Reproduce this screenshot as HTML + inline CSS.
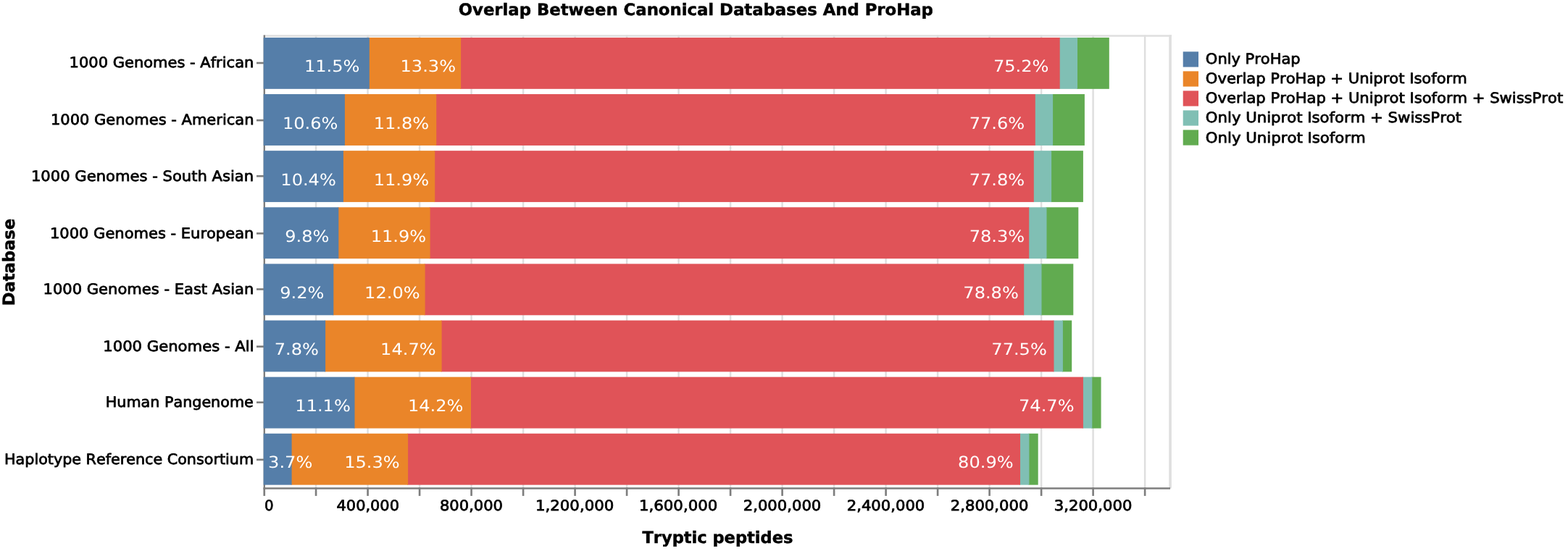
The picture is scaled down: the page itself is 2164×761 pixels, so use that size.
<!DOCTYPE html>
<html lang="en"><head><meta charset="utf-8"><title>Overlap Between Canonical Databases And ProHap</title>
<style>html,body{margin:0;padding:0;background:#fff;overflow:hidden}svg{display:block;font-family:'DejaVu Sans','Liberation Sans',sans-serif;font-kerning:none;text-rendering:geometricPrecision}</style></head><body>
<svg width="2164" height="761" viewBox="0 0 2164 761">
<rect width="2164" height="761" fill="#fff"/>
<g stroke="#dfdfdf" fill="none">
<line x1="363.70" y1="49.39" x2="1617.00" y2="49.39" stroke-width="2.5"/>
<line x1="1615.05" y1="48.15" x2="1615.05" y2="674.49" stroke-width="3.6"/>
</g>
<g stroke="#dfdfdf" stroke-width="2.50">
<line x1="364.75" y1="48.45" x2="364.75" y2="673.45"/>
<line x1="436.06" y1="48.45" x2="436.06" y2="673.45"/>
<line x1="507.57" y1="48.45" x2="507.57" y2="673.45"/>
<line x1="579.07" y1="48.45" x2="579.07" y2="673.45"/>
<line x1="650.57" y1="48.45" x2="650.57" y2="673.45"/>
<line x1="722.08" y1="48.45" x2="722.08" y2="673.45"/>
<line x1="793.58" y1="48.45" x2="793.58" y2="673.45"/>
<line x1="865.08" y1="48.45" x2="865.08" y2="673.45"/>
<line x1="936.58" y1="48.45" x2="936.58" y2="673.45"/>
<line x1="1008.09" y1="48.45" x2="1008.09" y2="673.45"/>
<line x1="1079.59" y1="48.45" x2="1079.59" y2="673.45"/>
<line x1="1151.09" y1="48.45" x2="1151.09" y2="673.45"/>
<line x1="1222.60" y1="48.45" x2="1222.60" y2="673.45"/>
<line x1="1294.10" y1="48.45" x2="1294.10" y2="673.45"/>
<line x1="1365.60" y1="48.45" x2="1365.60" y2="673.45"/>
<line x1="1437.11" y1="48.45" x2="1437.11" y2="673.45"/>
<line x1="1508.61" y1="48.45" x2="1508.61" y2="673.45"/>
<line x1="1580.11" y1="48.45" x2="1580.11" y2="673.45"/>
</g>
<g stroke="#7e7e7e" stroke-width="2.65" fill="none">
<line x1="364.85" y1="48.45" x2="364.85" y2="675.53" stroke-width="2.3"/>
<line x1="363.70" y1="674.49" x2="1615.00" y2="674.49"/>
<line x1="354.00" y1="86.99" x2="364.70" y2="86.99"/>
<line x1="354.00" y1="166.16" x2="364.70" y2="166.16"/>
<line x1="354.00" y1="243.24" x2="364.70" y2="243.24"/>
<line x1="354.00" y1="322.41" x2="364.70" y2="322.41"/>
<line x1="354.00" y1="399.49" x2="364.70" y2="399.49"/>
<line x1="354.00" y1="478.66" x2="364.70" y2="478.66"/>
<line x1="354.00" y1="555.74" x2="364.70" y2="555.74"/>
<line x1="354.00" y1="634.91" x2="364.70" y2="634.91"/>
<line x1="364.75" y1="673.45" x2="364.75" y2="684.91"/>
<line x1="436.06" y1="673.45" x2="436.06" y2="684.91"/>
<line x1="507.57" y1="673.45" x2="507.57" y2="684.91"/>
<line x1="579.07" y1="673.45" x2="579.07" y2="684.91"/>
<line x1="650.57" y1="673.45" x2="650.57" y2="684.91"/>
<line x1="722.08" y1="673.45" x2="722.08" y2="684.91"/>
<line x1="793.58" y1="673.45" x2="793.58" y2="684.91"/>
<line x1="865.08" y1="673.45" x2="865.08" y2="684.91"/>
<line x1="936.58" y1="673.45" x2="936.58" y2="684.91"/>
<line x1="1008.09" y1="673.45" x2="1008.09" y2="684.91"/>
<line x1="1079.59" y1="673.45" x2="1079.59" y2="684.91"/>
<line x1="1151.09" y1="673.45" x2="1151.09" y2="684.91"/>
<line x1="1222.60" y1="673.45" x2="1222.60" y2="684.91"/>
<line x1="1294.10" y1="673.45" x2="1294.10" y2="684.91"/>
<line x1="1365.60" y1="673.45" x2="1365.60" y2="684.91"/>
<line x1="1437.11" y1="673.45" x2="1437.11" y2="684.91"/>
<line x1="1508.61" y1="673.45" x2="1508.61" y2="684.91"/>
<line x1="1580.11" y1="673.45" x2="1580.11" y2="684.91"/>
</g>
<g>
<rect x="1486.00" y="51.91" width="44.80" height="70.91" fill="#61ab50"/>
<rect x="1461.70" y="51.91" width="25.30" height="70.91" fill="#80bfb4"/>
<rect x="635.10" y="51.91" width="827.60" height="70.91" fill="#e05358"/>
<rect x="508.80" y="51.91" width="127.30" height="70.91" fill="#ea8529"/>
<rect x="363.70" y="51.91" width="146.10" height="70.91" fill="#557ea9"/>
<rect x="1452.10" y="130.03" width="44.80" height="70.91" fill="#61ab50"/>
<rect x="1427.80" y="130.03" width="25.30" height="70.91" fill="#80bfb4"/>
<rect x="601.20" y="130.03" width="827.60" height="70.91" fill="#e05358"/>
<rect x="474.90" y="130.03" width="127.30" height="70.91" fill="#ea8529"/>
<rect x="363.70" y="130.03" width="112.20" height="70.91" fill="#557ea9"/>
<rect x="1450.10" y="208.16" width="44.80" height="70.91" fill="#61ab50"/>
<rect x="1425.80" y="208.16" width="25.30" height="70.91" fill="#80bfb4"/>
<rect x="599.20" y="208.16" width="827.60" height="70.91" fill="#e05358"/>
<rect x="472.90" y="208.16" width="127.30" height="70.91" fill="#ea8529"/>
<rect x="363.70" y="208.16" width="110.20" height="70.91" fill="#557ea9"/>
<rect x="1443.50" y="286.28" width="44.80" height="70.91" fill="#61ab50"/>
<rect x="1419.20" y="286.28" width="25.30" height="70.91" fill="#80bfb4"/>
<rect x="592.60" y="286.28" width="827.60" height="70.91" fill="#e05358"/>
<rect x="466.30" y="286.28" width="127.30" height="70.91" fill="#ea8529"/>
<rect x="363.70" y="286.28" width="103.60" height="70.91" fill="#557ea9"/>
<rect x="1436.50" y="364.41" width="44.80" height="70.91" fill="#61ab50"/>
<rect x="1412.20" y="364.41" width="25.30" height="70.91" fill="#80bfb4"/>
<rect x="585.60" y="364.41" width="827.60" height="70.91" fill="#e05358"/>
<rect x="459.30" y="364.41" width="127.30" height="70.91" fill="#ea8529"/>
<rect x="363.70" y="364.41" width="96.60" height="70.91" fill="#557ea9"/>
<rect x="1465.90" y="442.53" width="13.30" height="70.91" fill="#61ab50"/>
<rect x="1453.50" y="442.53" width="13.40" height="70.91" fill="#80bfb4"/>
<rect x="608.60" y="442.53" width="845.90" height="70.91" fill="#e05358"/>
<rect x="448.10" y="442.53" width="161.50" height="70.91" fill="#ea8529"/>
<rect x="363.70" y="442.53" width="85.40" height="70.91" fill="#557ea9"/>
<rect x="1506.30" y="520.66" width="13.30" height="70.91" fill="#61ab50"/>
<rect x="1493.90" y="520.66" width="13.40" height="70.91" fill="#80bfb4"/>
<rect x="649.00" y="520.66" width="845.90" height="70.91" fill="#e05358"/>
<rect x="488.50" y="520.66" width="161.50" height="70.91" fill="#ea8529"/>
<rect x="363.70" y="520.66" width="125.80" height="70.91" fill="#557ea9"/>
<rect x="1419.40" y="598.78" width="13.30" height="70.91" fill="#61ab50"/>
<rect x="1407.00" y="598.78" width="13.40" height="70.91" fill="#80bfb4"/>
<rect x="562.10" y="598.78" width="845.90" height="70.91" fill="#e05358"/>
<rect x="401.60" y="598.78" width="161.50" height="70.91" fill="#ea8529"/>
<rect x="363.70" y="598.78" width="38.90" height="70.91" fill="#557ea9"/>
</g>
<g>
<text transform="translate(95.53,93.29) scale(1.0622,1)" font-size="19.80" stroke="#000" stroke-width="0.75" fill="#000">1000 Genomes - African</text>
<text transform="translate(69.93,172.46) scale(1.0611,1)" font-size="19.80" stroke="#000" stroke-width="0.75" fill="#000">1000 Genomes - American</text>
<text transform="translate(42.92,249.54) scale(1.0668,1)" font-size="19.80" stroke="#000" stroke-width="0.75" fill="#000">1000 Genomes - South Asian</text>
<text transform="translate(68.93,328.71) scale(1.0624,1)" font-size="19.80" stroke="#000" stroke-width="0.75" fill="#000">1000 Genomes - European</text>
<text transform="translate(59.52,405.79) scale(1.0642,1)" font-size="19.80" stroke="#000" stroke-width="0.75" fill="#000">1000 Genomes - East Asian</text>
<text transform="translate(142.21,484.96) scale(1.0698,1)" font-size="19.80" stroke="#000" stroke-width="0.75" fill="#000">1000 Genomes - All</text>
<text transform="translate(145.80,562.04) scale(1.0459,1)" font-size="19.80" stroke="#000" stroke-width="0.75" fill="#000">Human Pangenome</text>
<text transform="translate(6.00,641.21) scale(1.0461,1)" font-size="19.80" stroke="#000" stroke-width="0.75" fill="#000">Haplotype Reference Consortium</text>
</g>
<g>
<text transform="translate(364.93,705.30) scale(0.9989,1)" font-size="19.80" stroke="#000" stroke-width="0.75" fill="#000">0</text>
<text transform="translate(464.55,705.30) scale(1.0564,1)" font-size="19.80" stroke="#000" stroke-width="0.75" fill="#000">400,000</text>
<text transform="translate(606.99,705.30) scale(1.0634,1)" font-size="19.80" stroke="#000" stroke-width="0.75" fill="#000">800,000</text>
<text transform="translate(738.93,705.30) scale(1.0765,1)" font-size="19.80" stroke="#000" stroke-width="0.75" fill="#000">1,200,000</text>
<text transform="translate(881.93,705.30) scale(1.0765,1)" font-size="19.80" stroke="#000" stroke-width="0.75" fill="#000">1,600,000</text>
<text transform="translate(1025.77,705.30) scale(1.0682,1)" font-size="19.80" stroke="#000" stroke-width="0.75" fill="#000">2,000,000</text>
<text transform="translate(1168.77,705.30) scale(1.0682,1)" font-size="19.80" stroke="#000" stroke-width="0.75" fill="#000">2,400,000</text>
<text transform="translate(1311.78,705.30) scale(1.0682,1)" font-size="19.80" stroke="#000" stroke-width="0.75" fill="#000">2,800,000</text>
<text transform="translate(1454.78,705.30) scale(1.0682,1)" font-size="19.80" stroke="#000" stroke-width="0.75" fill="#000">3,200,000</text>
</g>
<g>
<text transform="translate(419.92,99.41) scale(1.0800,1)" font-size="22.30" fill="#fff">11.5%</text>
<text transform="translate(552.52,99.41) scale(1.0800,1)" font-size="22.30" fill="#fff">13.3%</text>
<text transform="translate(1370.92,99.41) scale(1.0800,1)" font-size="22.30" fill="#fff">75.2%</text>
<text transform="translate(389.92,177.54) scale(1.0800,1)" font-size="22.30" fill="#fff">10.6%</text>
<text transform="translate(515.72,177.54) scale(1.0800,1)" font-size="22.30" fill="#fff">11.8%</text>
<text transform="translate(1337.72,177.54) scale(1.0800,1)" font-size="22.30" fill="#fff">77.6%</text>
<text transform="translate(387.32,255.66) scale(1.0800,1)" font-size="22.30" fill="#fff">10.4%</text>
<text transform="translate(515.72,255.66) scale(1.0800,1)" font-size="22.30" fill="#fff">11.9%</text>
<text transform="translate(1337.72,255.66) scale(1.0800,1)" font-size="22.30" fill="#fff">77.8%</text>
<text transform="translate(393.30,333.79) scale(1.0800,1)" font-size="22.30" fill="#fff">9.8%</text>
<text transform="translate(511.72,333.79) scale(1.0800,1)" font-size="22.30" fill="#fff">11.9%</text>
<text transform="translate(1337.72,333.79) scale(1.0800,1)" font-size="22.30" fill="#fff">78.3%</text>
<text transform="translate(386.30,411.91) scale(1.0800,1)" font-size="22.30" fill="#fff">9.2%</text>
<text transform="translate(503.12,411.91) scale(1.0800,1)" font-size="22.30" fill="#fff">12.0%</text>
<text transform="translate(1329.32,411.91) scale(1.0800,1)" font-size="22.30" fill="#fff">78.8%</text>
<text transform="translate(378.70,490.04) scale(1.0800,1)" font-size="22.30" fill="#fff">7.8%</text>
<text transform="translate(525.12,490.04) scale(1.0800,1)" font-size="22.30" fill="#fff">14.7%</text>
<text transform="translate(1368.32,490.04) scale(1.0800,1)" font-size="22.30" fill="#fff">77.5%</text>
<text transform="translate(407.32,568.16) scale(1.0800,1)" font-size="22.30" fill="#fff">11.1%</text>
<text transform="translate(562.92,568.16) scale(1.0800,1)" font-size="22.30" fill="#fff">14.2%</text>
<text transform="translate(1406.02,568.16) scale(1.0800,1)" font-size="22.30" fill="#fff">74.7%</text>
<text transform="translate(370.10,646.29) scale(1.0800,1)" font-size="22.30" fill="#fff">3.7%</text>
<text transform="translate(475.22,646.29) scale(1.0800,1)" font-size="22.30" fill="#fff">15.3%</text>
<text transform="translate(1322.12,646.29) scale(1.0800,1)" font-size="22.30" fill="#fff">80.9%</text>
</g>
<text transform="translate(632.73,21.20) scale(1.0142,1)" font-size="22.45" font-weight="bold" stroke="#000" stroke-width="0.5" fill="#000">Overlap Between Canonical Databases And ProHap</text>
<text transform="translate(886.46,749.65) scale(1.0043,1)" font-size="22.45" font-weight="bold" stroke="#000" stroke-width="0.5" fill="#000">Tryptic peptides</text>
<text transform="rotate(-90) translate(-422.37,20.40) scale(1.0081,1)" font-size="22.45" font-weight="bold" stroke="#000" stroke-width="0.5" fill="#000">Database</text>
<g>
<rect x="1632.7" y="71.35" width="21.3" height="21.2" fill="#557ea9"/>
<text transform="translate(1663.87,88.30) scale(1.0604,1)" font-size="19.80" stroke="#000" stroke-width="0.75" fill="#000">Only ProHap</text>
<rect x="1632.7" y="98.37" width="21.3" height="21.2" fill="#ea8529"/>
<text transform="translate(1663.86,115.35) scale(1.0646,1)" font-size="19.80" stroke="#000" stroke-width="0.75" fill="#000">Overlap ProHap + Uniprot Isoform</text>
<rect x="1632.7" y="125.39" width="21.3" height="21.2" fill="#e05358"/>
<text transform="translate(1663.86,142.40) scale(1.0657,1)" font-size="19.80" stroke="#000" stroke-width="0.75" fill="#000">Overlap ProHap + Uniprot Isoform + SwissProt</text>
<rect x="1632.7" y="152.41" width="21.3" height="21.2" fill="#80bfb4"/>
<text transform="translate(1663.86,169.45) scale(1.0720,1)" font-size="19.80" stroke="#000" stroke-width="0.75" fill="#000">Only Uniprot Isoform + SwissProt</text>
<rect x="1632.7" y="179.43" width="21.3" height="21.2" fill="#61ab50"/>
<text transform="translate(1663.86,196.50) scale(1.0740,1)" font-size="19.80" stroke="#000" stroke-width="0.75" fill="#000">Only Uniprot Isoform</text>
</g>
</svg></body></html>
